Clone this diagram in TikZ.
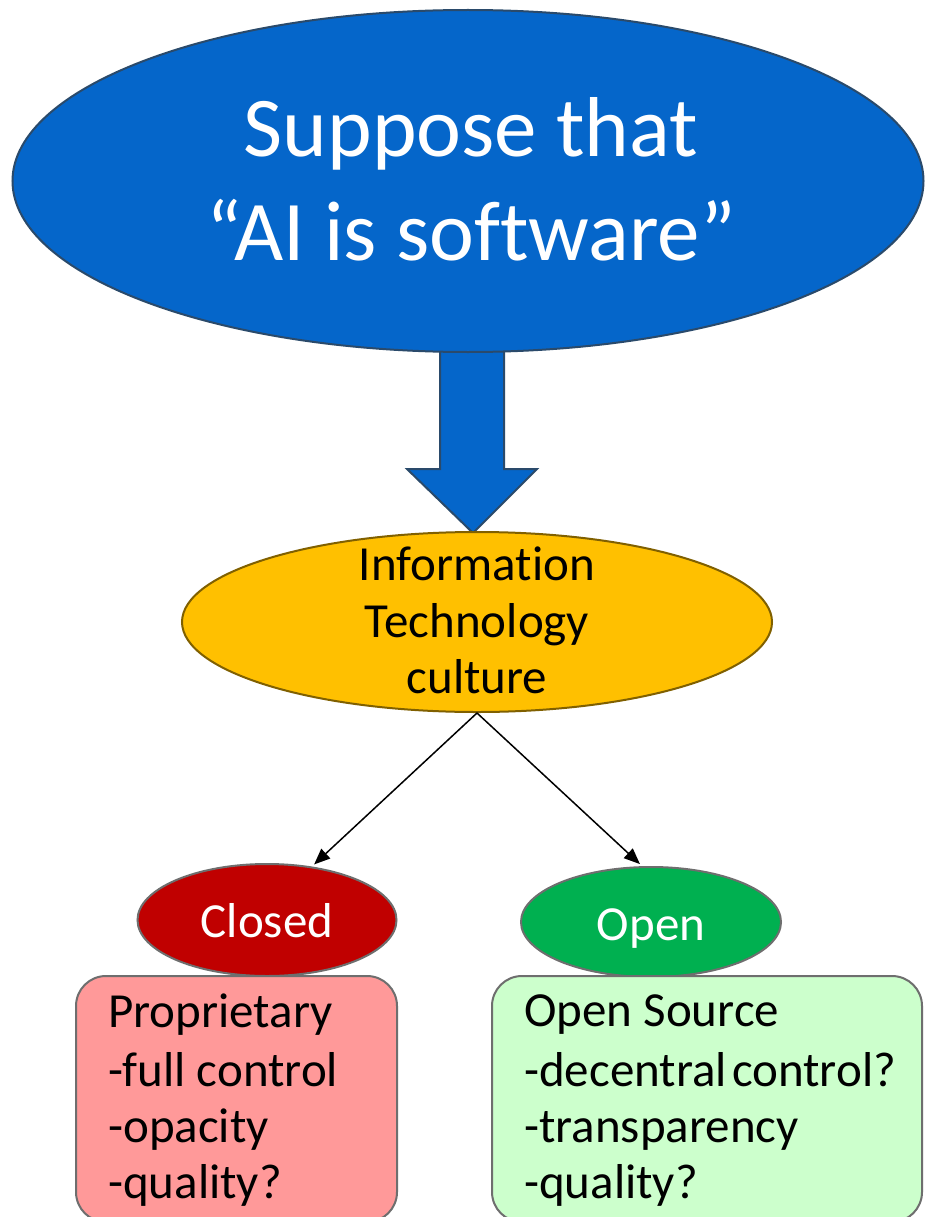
\documentclass[tikz,border=0pt]{standalone}
\usepackage{fontspec}
\setmainfont{Carlito}[Ligatures=NoCommon]
\usetikzlibrary{shapes.geometric,arrows.meta}
\definecolor{bigblue}{HTML}{0566CA}
\definecolor{bigedge}{HTML}{2A4A6B}
\definecolor{itcfill}{HTML}{FFC000}
\definecolor{itcedge}{HTML}{806000}
\definecolor{closedfill}{HTML}{C00000}
\definecolor{openfill}{HTML}{00B050}
\definecolor{grayedge}{HTML}{6E6E6E}
\definecolor{pinkfill}{HTML}{FF9999}
\definecolor{mintfill}{HTML}{CCFFCC}
\begin{document}
\begin{tikzpicture}[x=1pt,y=-1pt,
  oval/.style={ellipse, draw, line width=2pt, inner sep=0pt},
  card/.style={rectangle, rounded corners=30pt, draw=grayedge, line width=2pt, inner sep=0pt},
  bigtext/.style={font=\fontsize{85}{103}\selectfont, text=white, inner sep=0pt},
  midtext/.style={font=\fontsize{49}{57}\selectfont, inner sep=0pt},
  conn/.style={draw=black, line width=1.5pt, -{Triangle[length=16pt,width=13pt]}, shorten >=3pt},
  blockarrow/.style={fill=bigblue, draw=bigedge, line width=2pt, line join=miter}]
\useasboundingbox (0,0) rectangle (924,1217);
\fill[white] (0,0) rectangle (924,1217);
% block arrow
\draw[blockarrow] (440,345) -- (504,345) -- (504,469) -- (537,469) -- (473,533) -- (407,469) -- (440,469) -- cycle;
% top ellipse
\node[oval, fill=bigblue, draw=bigedge, minimum width=911, minimum height=342] (top) at (468,181) {};
\node[bigtext, anchor=base] (topA) at (471,157) {Suppose that};
\node[bigtext, anchor=base] (topB) at (471,260) {“AI is software”};
% IT culture
\node[oval, fill=itcfill, draw=itcedge, minimum width=590, minimum height=180] (itc) at (477,622) {};
\node[midtext, anchor=base] (itcA) at (477,580) {Information};
\node[midtext, anchor=base] (itcB) at (477,637) {Technology};
\node[midtext, anchor=base] (itcC) at (477,693) {culture};
% closed / open
\node[oval, fill=closedfill, draw=grayedge, minimum width=259, minimum height=112] (closed) at (267,920) {};
\node[midtext, anchor=base, text=white] (closedT) at (267,937) {Closed};
\node[oval, fill=openfill, draw=grayedge, minimum width=260, minimum height=110] (open) at (651,922) {};
\node[midtext, anchor=base, text=white] (openT) at (651,940) {Open};
% connectors
\draw[conn] (itc.south) -- (closed.50);
\draw[conn] (itc.south) -- (open.99);
% boxes
\node[card, fill=pinkfill, minimum width=321, minimum height=246] (prop) at (236.5,1099) {};
\node[midtext, anchor=base west] (propA) at (108,1027) {Proprietary};
\node[midtext, anchor=base west] (propB) at (108,1086) {-full control};
\node[midtext, anchor=base west] (propC) at (108,1142) {-opacity};
\node[midtext, anchor=base west] (propD) at (108,1198) {-quality?};
\node[card, fill=mintfill, minimum width=430, minimum height=246] (os) at (707,1099) {};
\node[midtext, anchor=base west] (osA) at (524,1026) {Open Source};
\node[midtext, anchor=base west] (osB) at (524,1086) {-decentral\hspace{-0.12em} control?};
\node[midtext, anchor=base west] (osC) at (524,1142) {-transparency};
\node[midtext, anchor=base west] (osD) at (524,1198) {-quality?};
\end{tikzpicture}
\end{document}
